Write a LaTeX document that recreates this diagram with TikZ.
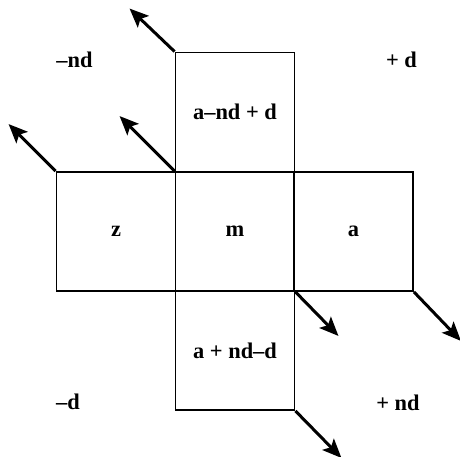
\documentclass[tikz,border=0pt]{standalone}
\usepackage{fontspec}
\setmainfont{Liberation Serif}
\usetikzlibrary{arrows.meta,positioning}
\tikzset{
  cell/.style={draw, line width=1.9bp, minimum width=119bp, minimum height=119bp,
               inner sep=0pt, font=\fontsize{22.5}{26}\selectfont\bfseries},
  ar/.style={-{Stealth[length=19bp,width=16bp,inset=4bp]}, line width=3bp},
  lbl/.style={font=\fontsize{22.5}{26}\selectfont\bfseries}
}

\begin{document}
\begin{tikzpicture}[x=1bp,y=-1bp]
  \useasboundingbox (0,0) rectangle (460,457);

  % the cross of cells
  \node[cell] (top) at (235,112) {a--nd + d};
  \node[cell] (z) at (116,231.5) {z};
  \node[cell] (m) at (235,231.5) {m};
  \node[cell] (a) at (353.5,231.5) {a};
  \node[cell] (bot) at (235,350.5) {a + nd--d};

  % corner labels
  \node[lbl] (mnd) at (74.5,60) {--nd};
  \node[lbl] (pd) at (401.5,60) {+ d};
  \node[lbl] (md) at (68,402) {--d};
  \node[lbl] (pnd) at (398,403) {+ nd};

  % arrow tips
  \path (top.north west) ++(-45,-43) coordinate (tipT);
  \path (z.north west) ++(-47,-47) coordinate (tipZ);
  \path (m.north west) ++(-55,-55) coordinate (tipM);
  \path (m.south east) ++(43,44) coordinate (tipMse);
  \path (a.south east) ++(47,49) coordinate (tipA);
  \path (bot.south east) ++(46,47) coordinate (tipB);

  \draw[ar] (top.north west) -- (tipT);
  \draw[ar] (z.north west) -- (tipZ);
  \draw[ar] (m.north west) -- (tipM);
  \draw[ar] (m.south east) -- (tipMse);
  \draw[ar] (a.south east) -- (tipA);
  \draw[ar] (bot.south east) -- (tipB);
\end{tikzpicture}
\end{document}
